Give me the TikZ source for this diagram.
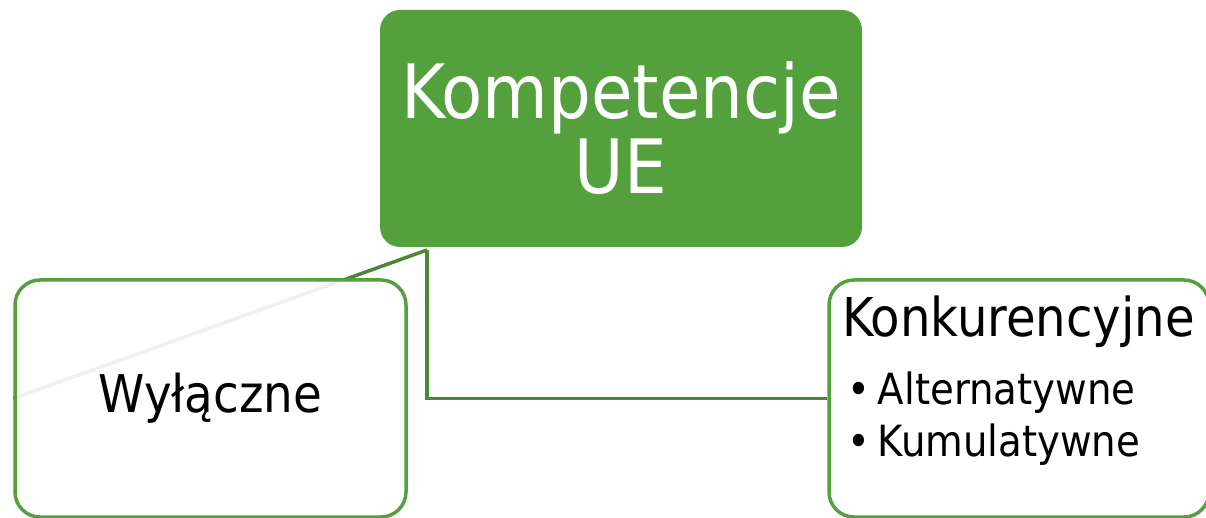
\documentclass[tikz,border=0pt]{standalone}
\usepackage{fontspec}
\setmainfont{DejaVu Sans Condensed}
\usetikzlibrary{backgrounds}
\definecolor{ueGreen}{RGB}{84,160,60}
\definecolor{ueLine}{RGB}{74,136,50}
\begin{document}
\begin{tikzpicture}[
            x=1pt, y=-1pt,
            rootbox/.style = {fill=ueGreen, rounded corners=20pt, text=white, align=center,
                minimum width=482pt, minimum height=237pt, inner sep=0pt,
                font=\fontsize{75}{75}\selectfont},
            childbox/.style = {draw=ueGreen, line width=3.5pt, fill=white, fill opacity=0.9,
                text opacity=1, rounded corners=25pt, minimum height=237pt, inner sep=0pt},
            link/.style = {draw=ueLine, line width=3.5pt}
        ]
            \useasboundingbox (0,0) rectangle (1206,518);

            \node[rootbox] (kompetencje) at (621,128.5) {Kompetencje\\UE};
            \coordinate (hub) at (427,250);

            \node[childbox, minimum width=391pt, font=\fontsize{52}{60}\selectfont] (wylaczne) at (210.5,398.5) {Wyłączne};
            \node[childbox, minimum width=380pt] (konkurencyjne) at (1019,398.5) {%
                \parbox[c][237pt][t]{364pt}{\vspace*{16pt}%
                    \fontsize{53.5}{60}\selectfont\hspace*{5pt}Konkurencyjne\par
                    \vspace{16pt}\fontsize{43}{52}\selectfont
                    \hspace*{10pt}•\hspace{8pt}Alternatywne\par
                    \hspace*{10pt}•\hspace{8pt}Kumulatywne}};

            \begin{scope}[on background layer]
                \draw[link] (hub) -- (wylaczne.west);
                \draw[link] (hub) |- (konkurencyjne.west);
            \end{scope}
        \end{tikzpicture}
\end{document}
